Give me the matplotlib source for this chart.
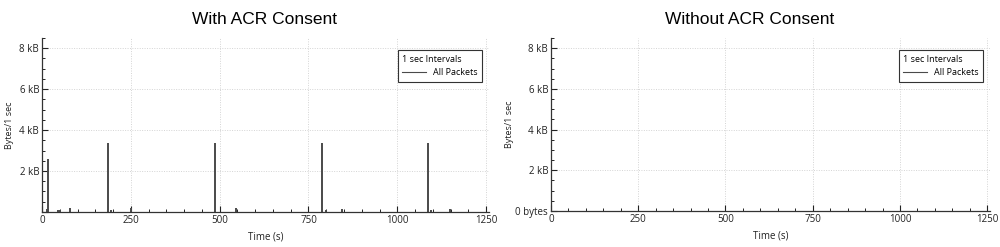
import matplotlib
matplotlib.use("Agg")
import matplotlib.pyplot as plt
from matplotlib.ticker import MultipleLocator

plt.rcParams['font.family'] = ['Open Sans', 'DejaVu Sans']

# nonzero 1-second intervals (time in s, bytes)
t_with = [14, 17, 46, 50, 78, 187, 195, 250, 487, 545, 788, 800, 845, 1086, 1095, 1148]
b_with = [150, 2570, 90, 100, 170, 3350, 80, 180, 3350, 170, 3350, 90, 150, 3350, 90, 150]

t_without = []
b_without = []

titles = ["With ACR Consent", "Without ACR Consent"]
yticks = [0, 2000, 4000, 6000, 8000]
ylabels_with = ["", "2 kB", "4 kB", "6 kB", "8 kB"]
ylabels_without = ["0 bytes", "2 kB", "4 kB", "6 kB", "8 kB"]
xticks = [0, 250, 500, 750, 1000, 1250]

line_col = "#4a4a4a"

fig = plt.figure(figsize=(10, 2.47), dpi=100)
ax1 = fig.add_axes([0.042, 0.142, 0.447, 0.704])
ax2 = fig.add_axes([0.551, 0.146, 0.439, 0.700])


def panel(ax, t, b, title, ylabels, title_x, ylab_x):
    if t:
        ax.vlines(t, 0, b, color=line_col, lw=1.4)
    ax.plot([], [], color=line_col, lw=0.8, label="All Packets")
    ax.set_xlim(0, 1258)
    ax.set_ylim(0, 8500)
    ax.set_xticks(xticks)
    ax.set_yticks(yticks)
    ax.set_yticklabels(ylabels)
    ax.xaxis.set_minor_locator(MultipleLocator(50))
    ax.yaxis.set_minor_locator(MultipleLocator(500))
    ax.tick_params(which="major", direction="in", length=4, width=0.8, labelsize=7,
                   colors="#222222", pad=2)
    ax.tick_params(which="minor", direction="in", length=2, width=0.6)
    ax.grid(True, which="major", color="#d4d4d4", linestyle=(0, (1, 1.5)), linewidth=0.7)
    ax.spines["top"].set_visible(False)
    ax.spines["right"].set_visible(False)
    for s in ["left", "bottom"]:
        ax.spines[s].set_color("#333333")
        ax.spines[s].set_linewidth(0.9)
    ax.set_xlabel("Time (s)", fontsize=7, color="#222222", labelpad=4)
    ax.set_ylabel("Bytes/1 sec", fontsize=6.5, color="#222222")
    ax.yaxis.set_label_coords(ylab_x, 0.5)
    fig.text(title_x, 0.92, title, ha="center", va="center", fontsize=12.5,
             family="Liberation Sans")
    leg = ax.legend(loc="upper right", title="1 sec Intervals", fontsize=6.5,
                    title_fontsize=6.5, fancybox=False, edgecolor="#333333",
                    framealpha=1, handlelength=2.6, borderpad=0.5,
                    bbox_to_anchor=(0.995, 0.955), alignment="left")
    leg.get_frame().set_linewidth(0.8)


panel(ax1, t_with, b_with, titles[0], ylabels_with, 0.265, -0.062)
panel(ax2, t_without, b_without, titles[1], ylabels_without, 0.75, -0.085)

fig.savefig("out.png", dpi=100)
